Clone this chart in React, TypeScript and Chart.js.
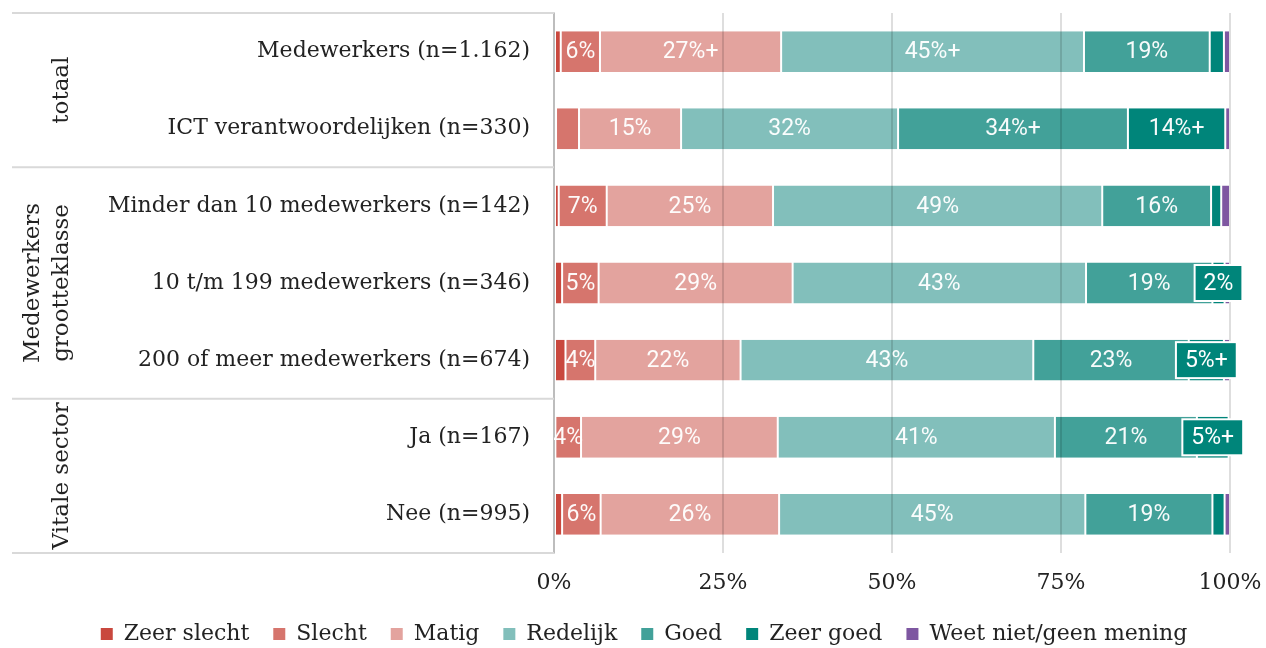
import React, { useEffect, useRef } from "react";
import { Chart, registerables } from "chart.js";

Chart.register(...registerables);

const categories = [
  "Medewerkers (n=1.162)",
  "ICT verantwoordelijken (n=330)",
  "Minder dan 10 medewerkers (n=142)",
  "10 t/m 199 medewerkers (n=346)",
  "200 of meer medewerkers (n=674)",
  "Ja (n=167)",
  "Nee (n=995)",
];

const seriesNames = ["Zeer slecht", "Slecht", "Matig", "Redelijk", "Goed", "Zeer goed", "Weet niet/geen mening"];
const seriesColors = ["#C9483E", "#D6756D", "#E3A39E", "#82BFBB", "#42A199", "#00857A", "#7E57A1"];

const zeerSlecht = [1.0, 0.3, 0.7, 1.2, 1.7, 0.2, 1.2];
const slecht = [5.8, 3.4, 7.1, 5.4, 4.4, 3.8, 5.7];
const matig = [26.8, 15.1, 24.6, 28.7, 21.5, 29.1, 26.4];
const redelijk = [44.8, 32.1, 48.7, 43.4, 43.3, 41.0, 45.3];
const goed = [18.6, 34.0, 16.1, 18.7, 23.0, 21.0, 18.8];
const zeerGoed = [2.1, 14.4, 1.5, 1.8, 5.2, 4.7, 1.8];
const weetNiet = [0.9, 0.7, 1.3, 0.8, 0.9, 0.2, 0.8];

const labelsZeerSlecht = ["", "", "", "", "", "", ""];
const labelsSlecht = ["6%", "", "7%", "5%", "4%", "4%", "6%"];
const labelsMatig = ["27%+", "15%", "25%", "29%", "22%", "29%", "26%"];
const labelsRedelijk = ["45%+", "32%", "49%", "43%", "43%", "41%", "45%"];
const labelsGoed = ["19%", "34%+", "16%", "19%", "23%", "21%", "19%"];
const labelsZeerGoed = ["", "14%+", "", "2%", "5%+", "5%+", ""];
const labelsWeetNiet = ["", "", "", "", "", "", ""];

const groupLabels = [["totaal"], ["Medewerkers", "grootteklasse"], ["Vitale sector"]];
const groupSizes = [2, 3, 2];

const xTicks = [0, 25, 50, 75, 100];

const seriesValues = [zeerSlecht, slecht, matig, redelijk, goed, zeerGoed, weetNiet];
const seriesLabels = [labelsZeerSlecht, labelsSlecht, labelsMatig, labelsRedelijk, labelsGoed, labelsZeerGoed, labelsWeetNiet];

const SERIF = "'DejaVu Serif', serif";
const SANS = "Roboto, 'Noto Sans', sans-serif";
const PAD_LEFT = 58;

const overlayPlugin = {
  id: "overlay",
  afterDraw(chart: any) {
    const ctx = chart.ctx as CanvasRenderingContext2D;
    const area = chart.chartArea;
    const y = chart.scales.y;
    ctx.save();
    ctx.strokeStyle = "#d9d9d9";
    ctx.lineWidth = 2;
    const bounds: number[] = [];
    let idx = 0;
    bounds.push(y.getPixelForValue(-0.5));
    groupSizes.forEach((n) => {
      idx += n;
      bounds.push(y.getPixelForValue(idx - 0.5));
    });
    bounds.forEach((b) => {
      ctx.beginPath();
      ctx.moveTo(12, b);
      ctx.lineTo(area.left, b);
      ctx.stroke();
    });
    ctx.fillStyle = "#222";
    ctx.font = `23px ${SERIF}`;
    ctx.textAlign = "center";
    ctx.textBaseline = "alphabetic";
    groupLabels.forEach((lines, g) => {
      const cy = (bounds[g] + bounds[g + 1]) / 2;
      const baseX = 68;
      lines.forEach((line, li) => {
        const bx = baseX - (lines.length - 1 - li) * 29;
        ctx.save();
        ctx.translate(bx, cy);
        ctx.rotate(-Math.PI / 2);
        ctx.fillText(line, 0, 0);
        ctx.restore();
      });
    });
    ctx.font = `23px ${SANS}`;
    ctx.textAlign = "center";
    ctx.textBaseline = "middle";
    const boxed: any[] = [];
    ctx.save();
    ctx.beginPath();
    ctx.rect(area.left, area.top, area.right - area.left, area.bottom - area.top);
    ctx.clip();
    chart.data.datasets.forEach((ds: any, i: number) => {
      const meta = chart.getDatasetMeta(i);
      meta.data.forEach((bar: any, j: number) => {
        const txt = seriesLabels[i][j];
        if (!txt) return;
        const cx = (bar.x + bar.base) / 2;
        const w = Math.abs(bar.x - bar.base);
        const tw = ctx.measureText(txt).width;
        if (tw > w + 6) {
          boxed.push({ cx, cy: bar.y, txt, tw, color: seriesColors[i] });
          return;
        }
        ctx.fillStyle = "rgba(255,255,255,0.96)";
        ctx.fillText(txt, cx, bar.y + 1);
      });
    });
    ctx.restore();
    boxed.forEach((b) => {
      const bw = b.tw + 18;
      const bh = 36;
      ctx.fillStyle = b.color;
      ctx.fillRect(b.cx - bw / 2, b.cy - bh / 2, bw, bh);
      ctx.strokeStyle = "#ffffff";
      ctx.lineWidth = 2;
      ctx.strokeRect(b.cx - bw / 2, b.cy - bh / 2, bw, bh);
      ctx.fillStyle = "#ffffff";
      ctx.fillText(b.txt, b.cx, b.cy + 1);
    });
    ctx.restore();
  },
};

export default function App() {
  const ref = useRef<HTMLCanvasElement | null>(null);
  useEffect(() => {
    if (!ref.current) return;
    const chart = new Chart(ref.current, {
      type: "bar",
      data: {
        labels: categories,
        datasets: seriesNames.map((name, i) => ({
          label: name,
          data: seriesValues[i],
          backgroundColor: seriesColors[i],
          borderColor: "#ffffff",
          borderWidth: { left: 1, right: 1, top: 0, bottom: 0 },
          borderSkipped: false,
          barPercentage: 1,
          categoryPercentage: 0.53,
        })),
      },
      options: {
        indexAxis: "y",
        responsive: false,
        animation: false,
        layout: { padding: { top: 13, right: 36, left: PAD_LEFT, bottom: 0 } },
        plugins: {
          tooltip: { enabled: false },
          legend: {
            position: "bottom",
            align: "center",
            labels: {
              boxWidth: 12,
              boxHeight: 12,
              padding: 24,
              color: "#222",
              font: { family: SERIF, size: 22 },
              generateLabels: (chart: any) =>
                chart.data.datasets.map((ds: any, i: number) => ({
                  text: ds.label,
                  fillStyle: seriesColors[i],
                  strokeStyle: "rgba(0,0,0,0)",
                  lineWidth: 0,
                  fontColor: "#222",
                  hidden: false,
                  datasetIndex: i,
                })),
            },
          },
        },
        scales: {
          x: {
            stacked: true,
            min: 0,
            max: 100,
            afterBuildTicks: (scale: any) => {
              scale.ticks = xTicks.map((v) => ({ value: v }));
            },
            afterFit: (scale: any) => {
              scale.height = 46;
              scale.paddingLeft = 0;
              scale.paddingRight = 0;
              scale.paddingTop = 0;
              scale.paddingBottom = 0;
            },
            ticks: {
              padding: 17,
              color: "#222",
              font: { family: SERIF, size: 22 },
              callback: (v: any) => v + "%",
            },
            grid: {
              color: "rgba(0,0,0,0.13)",
              lineWidth: 2,
              drawTicks: false,
              z: 1,
            },
            border: { display: false },
          },
          y: {
            stacked: true,
            afterFit: (scale: any) => {
              scale.width = 554 - PAD_LEFT;
              scale.paddingLeft = 0;
              scale.paddingRight = 0;
              scale.paddingTop = 0;
              scale.paddingBottom = 0;
            },
            ticks: {
              padding: 24,
              color: "#222",
              font: { family: SERIF, size: 22 },
            },
            grid: { display: false, drawTicks: false },
            border: { display: true, color: "#d9d9d9", width: 2 },
          },
        },
      },
      plugins: [overlayPlugin],
    });
    return () => chart.destroy();
  }, []);
  return (
    <div style={{ position: "absolute", left: 0, top: 0, width: 1266, height: 648, overflow: "hidden" }}>
      <canvas ref={ref} width={1266} height={655} style={{ display: "block" }} />
    </div>
  );
}
